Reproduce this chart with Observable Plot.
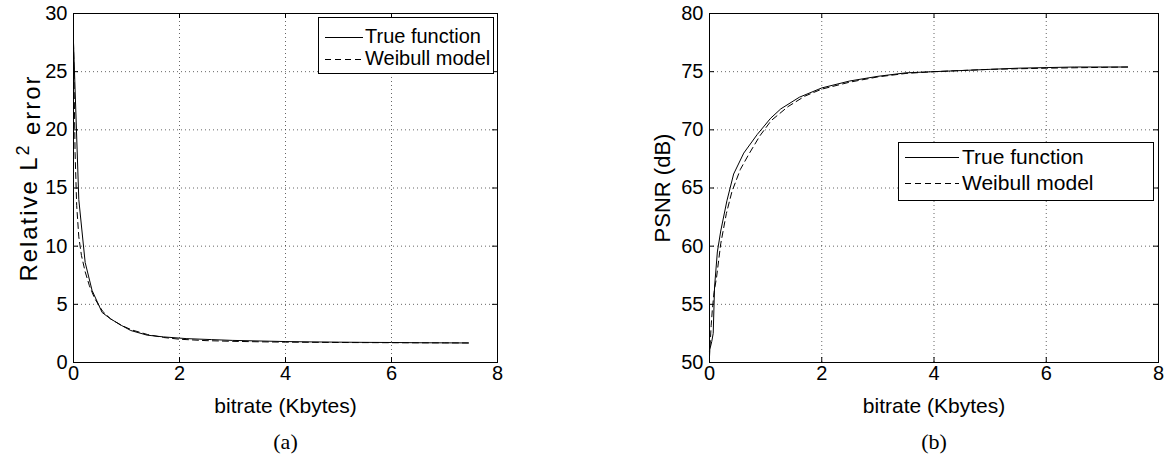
<!DOCTYPE html>
<html>
<head>
<meta charset="utf-8">
<script src="https://cdn.jsdelivr.net/npm/d3@7"></script>
<script src="https://cdn.jsdelivr.net/npm/@observablehq/plot@0.6"></script>
<style>
  html, body { margin: 0; padding: 0; background: white; }
  #wrap { position: relative; width: 1170px; height: 457px; background: white; font-family: "Liberation Sans", Arial, sans-serif; }
  .panel { position: absolute; top: 0; }
  .legend { position: absolute; border: 1px solid black; background: white; color: black; }
  .legend .row { position: absolute; left: 0; display: flex; align-items: center; white-space: nowrap; }
  .legend svg { display: block; }
</style>
</head>
<body>
<div id="wrap">
  <div id="pa" class="panel" style="left:0px"></div>
  <div id="pb" class="panel" style="left:585px"></div>
  <div id="lega" class="legend" style="left:318px; top:17px; width:174px; height:55px; font-size:20px"></div>
  <div id="legb" class="legend" style="left:898px; top:142px; width:254px; height:57px; font-size:21px"></div>
</div>
<script>
// ---------- Data ----------
const xTicks = [0, 2, 4, 6, 8];
const yTicksA = [0, 5, 10, 15, 20, 25, 30];
const yTicksB = [50, 55, 60, 65, 70, 75, 80];
const seriesNames = ["True function", "Weibull model"];

// (a) Relative L2 error
const errTrueX = [0, 0.1, 0.22, 0.35, 0.54, 0.7, 0.9, 1.08, 1.39, 1.7, 2.14, 2.6, 3.0, 3.5, 4.0, 4.5, 5.0, 5.5, 6.0, 6.5, 7.0, 7.45];
const errTrueY = [27.5, 14, 8.6, 6.2, 4.3, 3.75, 3.2, 2.75, 2.35, 2.2, 2.05, 1.97, 1.9, 1.85, 1.8, 1.77, 1.75, 1.73, 1.72, 1.7, 1.69, 1.68];
const errModelX = [0, 0.03, 0.06, 0.1, 0.15, 0.22, 0.3, 0.4, 0.55, 0.7, 0.9, 1.1, 1.4, 1.7, 2.0, 2.5, 3.0, 3.5, 4.0, 5.0, 6.0, 7.45];
const errModelY = [27.5, 18, 13.5, 10.8, 9.2, 7.8, 6.6, 5.5, 4.4, 3.75, 3.2, 2.8, 2.4, 2.15, 2.0, 1.88, 1.82, 1.78, 1.75, 1.72, 1.7, 1.68];

// (b) PSNR
const psnrTrueX = [0, 0.04, 0.066, 0.09, 0.14, 0.2, 0.31, 0.43, 0.61, 0.85, 1.09, 1.27, 1.6, 2.0, 2.5, 3.0, 3.5, 4.0, 4.5, 5.0, 5.5, 6.0, 6.5, 7.0, 7.45];
const psnrTrueY = [51.0, 51.8, 52.5, 56.5, 59.5, 61.3, 63.9, 66.2, 68.0, 69.6, 71.0, 71.8, 72.8, 73.6, 74.2, 74.6, 74.9, 75.0, 75.1, 75.2, 75.3, 75.35, 75.4, 75.4, 75.4];
const psnrModelX = [0, 0.03, 0.05, 0.08, 0.125, 0.2, 0.3, 0.4, 0.55, 0.7, 0.9, 1.1, 1.4, 1.7, 2.0, 2.5, 3.0, 3.5, 4.0, 5.0, 6.0, 7.45];
const psnrModelY = [50.5, 53.2, 54.5, 56.0, 57.3, 60.2, 62.8, 64.7, 66.6, 67.9, 69.5, 70.8, 72.0, 72.9, 73.5, 74.1, 74.55, 74.85, 75.0, 75.2, 75.3, 75.4];

const toRows = (xs, ys) => xs.map((x, i) => ({x, y: ys[i]}));

function panel({width, ml, mr, yDomain, yTicks, trueRows, modelRows, yLabel, yLabelDx, yLabelDy, yLabelFs, caption, fs}) {
  const height = 457, mt = 13, mb = 95;
  const fw = width - ml - mr, fh = height - mt - mb;
  const tick = 5;
  const font = "Liberation Sans, Arial, sans-serif";
  const grid = {stroke: "#000", strokeOpacity: 0.6, strokeDasharray: "1,3"};
  return Plot.plot({
    width, height,
    marginLeft: ml, marginRight: mr, marginTop: mt, marginBottom: mb,
    style: {fontFamily: font, background: "white", color: "black", overflow: "visible"},
    x: {domain: [0, 8], label: null},
    y: {domain: yDomain, label: null},
    marks: [
      Plot.gridX(xTicks.slice(1, -1), grid),
      Plot.gridY(yTicks.slice(1, -1), grid),
      Plot.tickX(xTicks, {x: d => d, stroke: "black", insetTop: fh - tick}),
      Plot.tickX(xTicks, {x: d => d, stroke: "black", insetBottom: fh - tick}),
      Plot.tickY(yTicks, {y: d => d, stroke: "black", insetRight: fw - tick}),
      Plot.tickY(yTicks, {y: d => d, stroke: "black", insetLeft: fw - tick}),
      Plot.axisX(xTicks, {tickSize: 0, tickPadding: 3, fontSize: fs, label: null, fill: "black"}),
      Plot.axisY(yTicks, {tickSize: 0, tickPadding: 6, fontSize: fs, label: null, fill: "black"}),
      Plot.line(trueRows, {x: "x", y: "y", stroke: "black", strokeWidth: 1}),
      Plot.line(modelRows, {x: "x", y: "y", stroke: "black", strokeWidth: 1, strokeDasharray: "6,4"}),
      Plot.frame({stroke: "black", strokeWidth: 1}),
      Plot.text(["bitrate (Kbytes)"], {text: d => d, frameAnchor: "bottom", textAnchor: "middle", lineAnchor: "middle", dy: 44, fontSize: fs + 1, fill: "black"}),
      Plot.text([yLabel], {text: d => d, frameAnchor: "left", textAnchor: "middle", lineAnchor: "middle", dx: yLabelDx, dy: yLabelDy, rotate: -90, fontSize: yLabelFs, fill: "black"}),
      Plot.text([caption], {text: d => d, frameAnchor: "bottom", textAnchor: "middle", lineAnchor: "middle", dy: 79, fontSize: 22, fill: "black", fontFamily: "Liberation Serif, DejaVu Serif, serif"})
    ]
  });
}

const svgA = panel({
  width: 585, ml: 73, mr: 88, yDomain: [0, 30], yTicks: yTicksA,
  trueRows: toRows(errTrueX, errTrueY), modelRows: toRows(errModelX, errModelY),
  yLabel: "Relative L2 error", yLabelDx: -44, yLabelDy: -9, yLabelFs: 24, caption: "(a)", fs: 20
});
document.getElementById("pa").append(svgA);
// render the "2" in "L2" as a superscript, spaced like the reference
d3.select(svgA).selectAll("text").filter(function() { return this.textContent === "Relative L2 error"; })
  .each(function() {
    const t = d3.select(this);
    t.text(null);
    t.attr("textLength", 205).attr("lengthAdjust", "spacing");
    t.append("tspan").text("Relative L");
    t.append("tspan").attr("dy", "-0.45em").attr("font-size", "0.75em").text("2");
    t.append("tspan").attr("dy", "0.45em").text(" error");
  });

document.getElementById("pb").append(panel({
  width: 585, ml: 124, mr: 12, yDomain: [50, 80], yTicks: yTicksB,
  trueRows: toRows(psnrTrueX, psnrTrueY), modelRows: toRows(psnrModelX, psnrModelY),
  yLabel: "PSNR (dB)", yLabelDx: -47, yLabelDy: 0, yLabelFs: 22, caption: "(b)", fs: 20
}));

function legend(el, sampleW, rowTops, padL, gap) {
  const dashes = [null, "6,4"];
  seriesNames.forEach((name, i) => {
    const row = document.createElement("div");
    row.className = "row";
    row.style.top = rowTops[i] + "px";
    row.style.left = padL + "px";
    const s = d3.create("svg").attr("width", sampleW).attr("height", 20);
    s.append("line").attr("x1", 0).attr("x2", sampleW).attr("y1", 10.5).attr("y2", 10.5)
      .attr("stroke", "black").attr("stroke-width", 1).attr("stroke-dasharray", dashes[i]);
    row.append(s.node());
    const t = document.createElement("span");
    t.textContent = name;
    t.style.marginLeft = gap + "px";
    row.append(t);
    el.append(row);
  });
}
legend(document.getElementById("lega"), 38, [7, 29], 6, 2);
legend(document.getElementById("legb"), 54, [2, 28], 6, 3);
</script>
</body>
</html>
